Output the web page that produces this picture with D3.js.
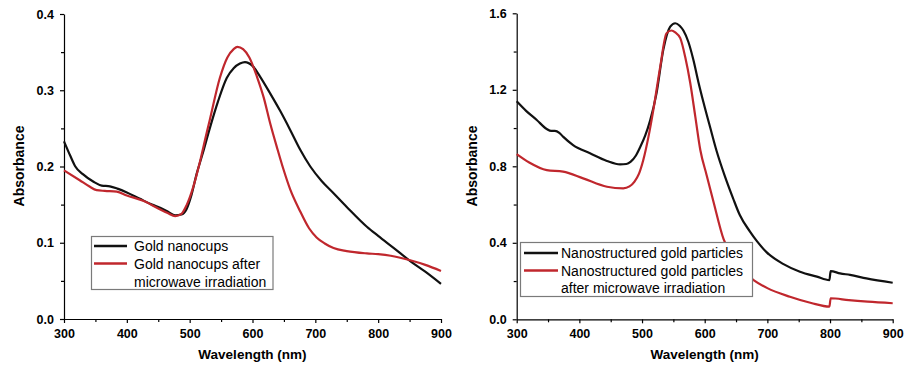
<!DOCTYPE html>
<html lang="en">
<head>
  <meta charset="UTF-8">
  <title>Gold nanoparticles absorbance spectra</title>
  <style>
    body { margin: 0; background: #fff; }
    svg { display: block; font-family: Arial, "Liberation Sans", sans-serif; }
    .axis path, .axis line { stroke: #000; stroke-width: 1.2px; }
    .axis text { font-size: 12.5px; font-weight: bold; fill: #000; }
    .title { font-size: 14px; font-weight: bold; fill: #000; }
    .legend text { font-size: 14px; fill: #000; }
    .curve { fill: none; stroke-width: 2.2px; stroke-linejoin: round; }
  </style>
</head>
<body>
<svg id="chart" width="904" height="365"></svg>
<script src="https://d3js.org/d3.v7.min.js"></script>
<script>
  // wavelength (nm) / absorbance pairs
  const cupsWl = [300, 310, 318, 330, 347, 360, 373, 385, 400, 420, 440, 453, 465, 477, 487, 495, 503, 511, 520, 532, 545, 559, 570, 580, 588, 600, 612, 628, 644, 660, 676, 692, 710, 729, 750, 782, 800, 825, 851, 875, 900];
  const cupsAbs = [0.233, 0.214, 0.2, 0.19, 0.18, 0.175, 0.174, 0.171, 0.166, 0.158, 0.15, 0.146, 0.141, 0.136, 0.137, 0.144, 0.163, 0.19, 0.215, 0.25, 0.285, 0.316, 0.329, 0.335, 0.337, 0.332, 0.318, 0.296, 0.273, 0.248, 0.222, 0.2, 0.181, 0.165, 0.147, 0.121, 0.109, 0.093, 0.076, 0.062, 0.046];

  const cupsMwWl = [300, 325, 340, 352, 365, 384, 400, 426, 450, 465, 477, 487, 495, 506, 516, 527, 532, 548, 560, 570, 576, 585, 595, 607, 618, 628, 640, 649, 660, 676, 690, 702, 715, 729, 750, 782, 800, 820, 851, 875, 900];
  const cupsMwAbs = [0.195, 0.182, 0.174, 0.169, 0.168, 0.167, 0.162, 0.155, 0.145, 0.139, 0.135, 0.138, 0.149, 0.174, 0.205, 0.244, 0.261, 0.316, 0.343, 0.354, 0.357, 0.354, 0.343, 0.318, 0.29, 0.257, 0.222, 0.197, 0.17, 0.141, 0.119, 0.107, 0.099, 0.093, 0.089, 0.086, 0.085, 0.083, 0.077, 0.071, 0.063];

  const partWl = [300, 315, 332, 348, 355, 361, 368, 374, 390, 417, 444, 465, 475, 482, 490, 497, 505, 513, 523, 534, 545, 553, 560, 566, 574, 582, 590, 598, 609, 619, 632, 645, 656, 672, 683, 699, 725, 752, 779, 799, 801, 816, 832, 858, 900];
  const partAbs = [1.14, 1.09, 1.042, 0.995, 0.985, 0.985, 0.975, 0.955, 0.911, 0.868, 0.828, 0.81, 0.812, 0.824, 0.855, 0.9, 0.96, 1.04, 1.18, 1.41, 1.53, 1.548, 1.535, 1.51, 1.45, 1.356, 1.24, 1.135, 1.0, 0.88, 0.75, 0.635, 0.545, 0.46, 0.41, 0.35, 0.29, 0.249, 0.223, 0.205, 0.252, 0.24, 0.232, 0.214, 0.191];

  const partMwWl = [300, 320, 348, 374, 406, 444, 470, 480, 488, 495, 502, 510, 518, 529, 539, 547, 553, 561, 569, 577, 585, 593, 603, 614, 630, 645, 660, 678, 700, 736, 770, 799, 801, 830, 860, 900];
  const partMwAbs = [0.864, 0.82, 0.78, 0.772, 0.737, 0.693, 0.685, 0.695, 0.72, 0.76, 0.833, 0.95, 1.094, 1.32, 1.495, 1.51, 1.5, 1.47, 1.37, 1.234, 1.06, 0.885, 0.755, 0.615, 0.42, 0.32, 0.255, 0.205, 0.163, 0.118, 0.085, 0.066, 0.11, 0.1, 0.092, 0.084];

  const xTicks = [300, 400, 500, 600, 700, 800, 900];
  const leftYTicks = [0.0, 0.1, 0.2, 0.3, 0.4];
  const rightYTicks = [0.0, 0.4, 0.8, 1.2, 1.6];

  const svg = d3.select("#chart");
  const black = "#111";
  const red = "#c0272d";

  function pairs(xs, ys) { return xs.map((x, i) => [x, ys[i]]); }

  function panel(opt) {
    const x = d3.scaleLinear().domain([300, 900]).range([opt.x0, opt.x1]);
    const y = d3.scaleLinear().domain([0, opt.yMax]).range([opt.y0, opt.y1]);
    const g = svg.append("g");

    // minor ticks
    g.append("g").attr("class", "axis")
      .attr("transform", `translate(0,${opt.y0})`)
      .call(d3.axisBottom(x).tickValues(d3.range(350, 900, 100)).tickSize(3).tickFormat(""))
      .call(a => a.select(".domain").remove());
    g.append("g").attr("class", "axis")
      .attr("transform", `translate(${opt.x0},0)`)
      .call(d3.axisLeft(y).tickValues(opt.minor).tickSize(3).tickFormat(""))
      .call(a => a.select(".domain").remove());

    g.append("g").attr("class", "axis")
      .attr("transform", `translate(0,${opt.y0})`)
      .call(d3.axisBottom(x).tickValues(xTicks).tickSize(4).tickSizeOuter(0).tickPadding(6).tickFormat(d3.format("d")));
    g.append("g").attr("class", "axis")
      .attr("transform", `translate(${opt.x0},0)`)
      .call(d3.axisLeft(y).tickValues(opt.yTicks).tickSize(4).tickSizeOuter(0).tickPadding(6).tickFormat(d3.format(".1f")));

    const line = d3.line().x(d => x(d[0])).y(d => y(d[1])).curve(d3.curveMonotoneX);
    g.append("path").attr("class", "curve").attr("stroke", black).attr("d", line(opt.s1));
    g.append("path").attr("class", "curve").attr("stroke", red).attr("d", line(opt.s2));

    g.append("text").attr("class", "title")
      .attr("x", (opt.x0 + opt.x1) / 2).attr("y", 359)
      .attr("text-anchor", "middle").style("font-size", "13.5px")
      .text("Wavelength (nm)");
    g.append("text").attr("class", "title")
      .attr("transform", `translate(${opt.yLabelX},166) rotate(-90)`)
      .attr("text-anchor", "middle")
      .text("Absorbance");

    // legend
    const L = opt.legend;
    const lg = g.append("g").attr("class", "legend");
    lg.append("rect").attr("x", L.x).attr("y", L.y).attr("width", L.w).attr("height", L.h)
      .attr("fill", "#fff").attr("stroke", "#7a7a7a").attr("stroke-width", 1.2);
    [black, red].forEach((c, i) => {
      lg.append("line").attr("x1", L.lx0).attr("x2", L.lx1)
        .attr("y1", L.rows[i]).attr("y2", L.rows[i])
        .attr("stroke", c).attr("stroke-width", 2.4);
    });
    L.labels.forEach((t, i) => {
      lg.append("text").attr("x", L.tx).attr("y", L.rows[i]).attr("dy", "0.36em").text(t);
    });
  }

  panel({
    x0: 64, x1: 441, y0: 319, y1: 14, yMax: 0.4,
    yTicks: leftYTicks, minor: [0.05, 0.15, 0.25, 0.35], yLabelX: 24,
    s1: pairs(cupsWl, cupsAbs), s2: pairs(cupsMwWl, cupsMwAbs),
    legend: {
      x: 91.5, y: 236.5, w: 181.5, h: 53, lx0: 94, lx1: 127, tx: 134,
      rows: [246, 263.5, 281.5],
      labels: ["Gold nanocups", "Gold nanocups after", "microwave irradiation"]
    }
  });

  panel({
    x0: 516.7, x1: 892.7, y0: 319.3, y1: 13.3, yMax: 1.6,
    yTicks: rightYTicks, minor: [0.2, 0.6, 1.0, 1.4], yLabelX: 477,
    s1: pairs(partWl, partAbs), s2: pairs(partMwWl, partMwAbs),
    legend: {
      x: 520.5, y: 242.5, w: 232, h: 54, lx0: 524, lx1: 558, tx: 561,
      rows: [253, 270.5, 288],
      labels: ["Nanostructured gold particles", "Nanostructured gold particles", "after microwave irradiation"]
    }
  });
</script>
</body>
</html>
